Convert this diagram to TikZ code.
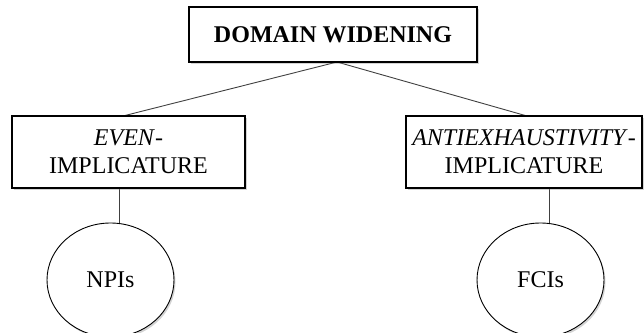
\documentclass[tikz,border=0pt]{standalone}
\usepackage{fontspec}
\setmainfont{Liberation Serif}
\usetikzlibrary{shapes.geometric,shadows}
\begin{document}
\begin{tikzpicture}[x=1pt,y=-1pt,
  every node/.style={font=\fontsize{24}{28}\selectfont, inner sep=0pt, align=center},
  boxnode/.style={draw=black, line width=1.5pt, fill=white, rectangle,
    drop shadow={opacity=0.35, shadow xshift=1.5pt, shadow yshift=-2pt}},
  leafnode/.style={draw=black, line width=0.9pt, fill=white, ellipse,
    drop shadow={opacity=0.35, shadow xshift=1.5pt, shadow yshift=-2pt}},
  link/.style={draw=black!75, line width=0.9pt}]
\useasboundingbox (0,0) rectangle (644,332);

% connectors first so the boxes sit on top of them
\coordinate (apex) at (337,62);
\coordinate (lefttop) at (123,116);
\coordinate (righttop) at (527,116);
\draw[link] (apex) -- (lefttop);
\draw[link] (apex) -- (righttop);
\draw[link] (119,188) -- (119,223);
\draw[link] (549,188) -- (549,223);

% boxes
\node[boxnode, minimum width=288pt, minimum height=55pt] (top) at (333,34.5)
  {\textbf{DOMAIN WIDENING}};
\node[boxnode, minimum width=233pt, minimum height=72pt] (even) at (128.5,152)
  {\textit{EVEN}-\\IMPLICATURE};
\node[boxnode, minimum width=236pt, minimum height=72pt] (anti) at (524,152)
  {\textit{ANTIEXHAUSTIVITY}-\\IMPLICATURE};

% leaves
\node[leafnode, minimum width=127pt, minimum height=114pt] (npi) at (110.5,280) {NPIs};
\node[leafnode, minimum width=127pt, minimum height=114pt] (fci) at (540.5,280) {FCIs};
\end{tikzpicture}
\end{document}
